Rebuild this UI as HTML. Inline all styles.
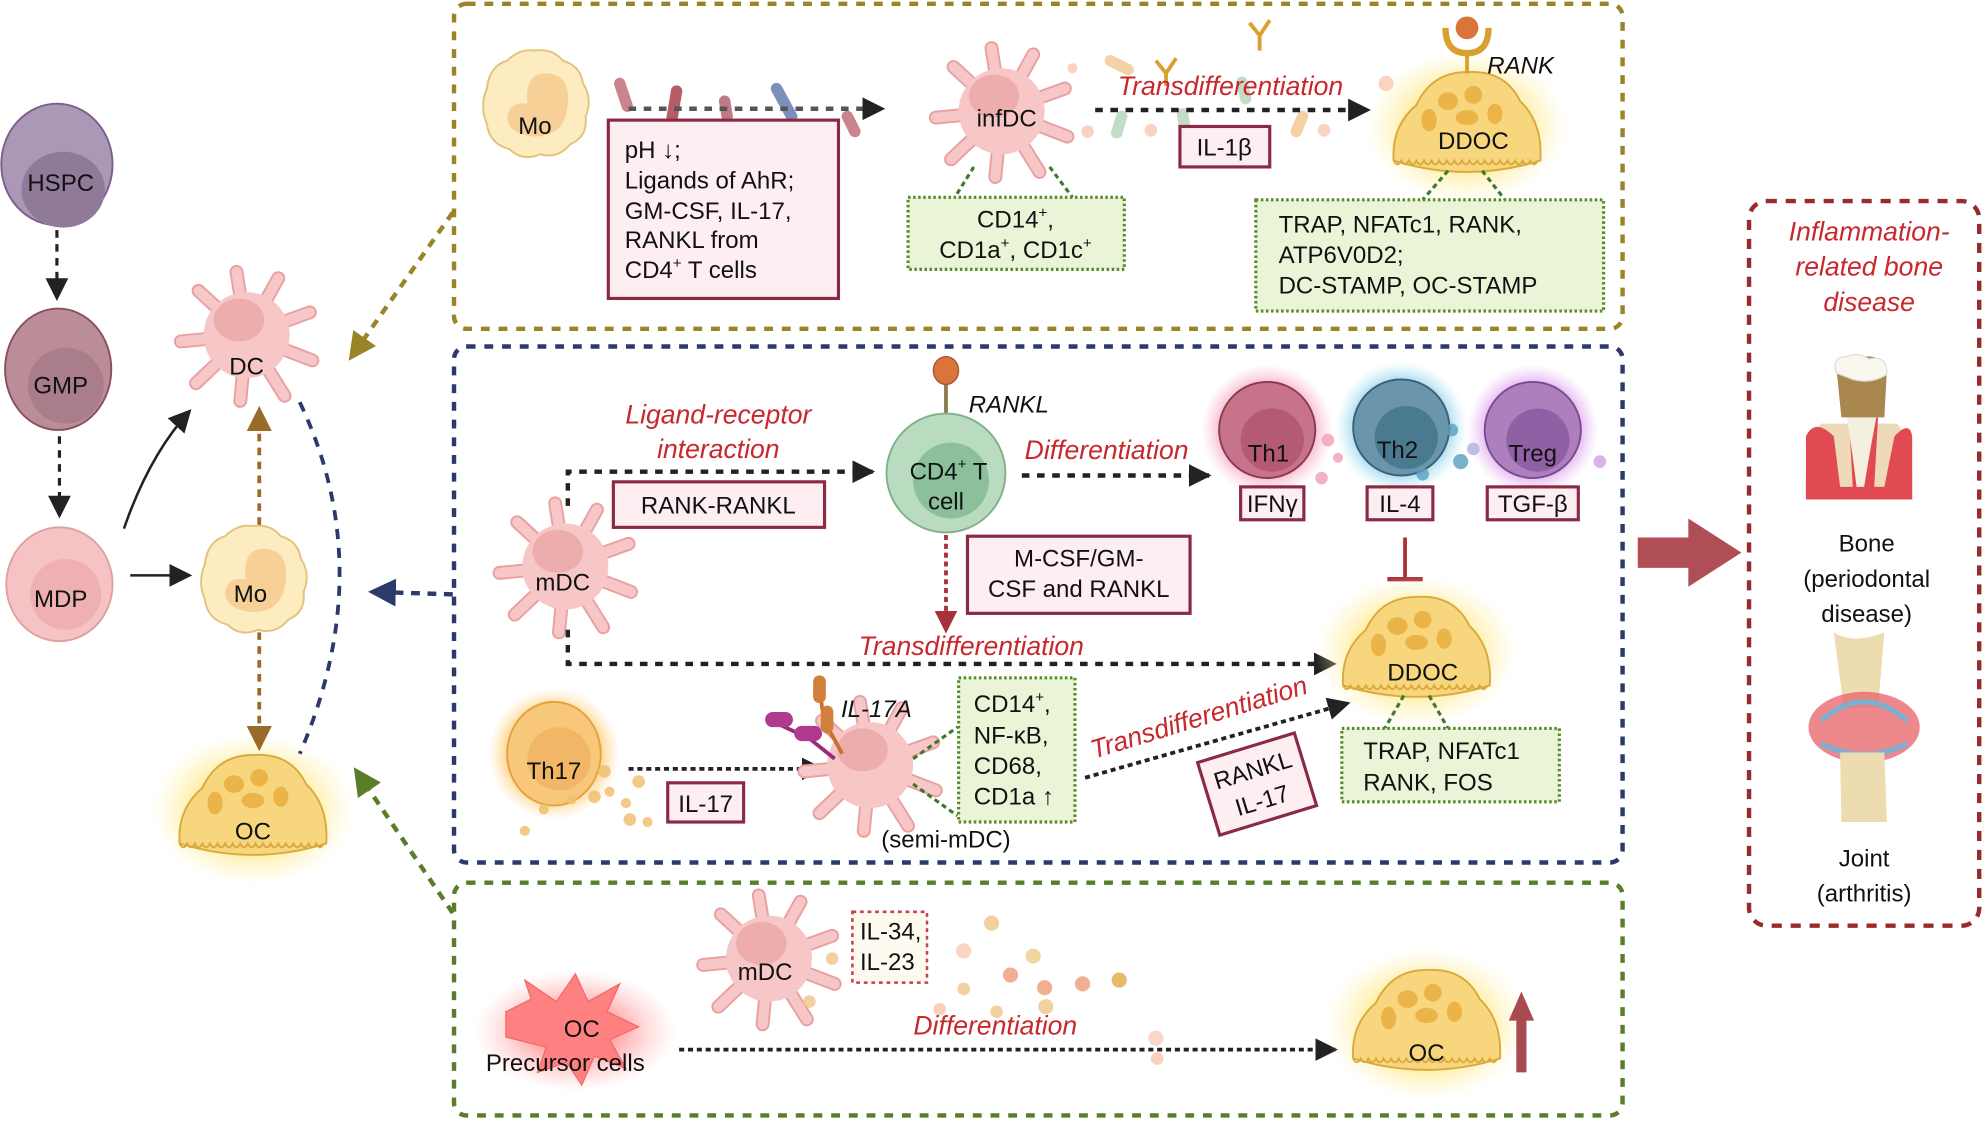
<!DOCTYPE html>
<html><head><meta charset="utf-8"><style>
html,body{margin:0;padding:0;background:#fff;}
svg{display:block;}
text{font-family:"Liberation Sans",sans-serif;}
.t{font-size:19px;fill:#111;}
.r{font-size:21px;fill:#c8282c;font-style:italic;}
.i{font-style:italic;}
</style></head><body>
<svg width="1983" height="1123" viewBox="0 0 1568 888" preserveAspectRatio="none" xmlns="http://www.w3.org/2000/svg">
<defs>
<marker id="ak" markerWidth="8" markerHeight="8" refX="6" refY="4" orient="auto" markerUnits="userSpaceOnUse" viewBox="0 0 8 8"><path d="M0,0L8,4L0,8Z" fill="#222"/></marker>
<marker id="akb" markerWidth="18" markerHeight="18" refX="16" refY="9" orient="auto" markerUnits="userSpaceOnUse"><path d="M0,0L18,9L0,18Z" fill="#222"/></marker>
<marker id="ao" markerWidth="22" markerHeight="22" refX="18" refY="11" orient="auto" markerUnits="userSpaceOnUse"><path d="M0,0L22,11L0,22Z" fill="#9a8428"/></marker>
<marker id="an" markerWidth="22" markerHeight="22" refX="18" refY="11" orient="auto" markerUnits="userSpaceOnUse"><path d="M0,0L22,11L0,22Z" fill="#2b3a6b"/></marker>
<marker id="ag" markerWidth="22" markerHeight="22" refX="18" refY="11" orient="auto" markerUnits="userSpaceOnUse"><path d="M0,0L22,11L0,22Z" fill="#5a7d2a"/></marker>
<marker id="abr" markerWidth="20" markerHeight="20" refX="16" refY="10" orient="auto" markerUnits="userSpaceOnUse"><path d="M0,0L20,10L0,20Z" fill="#9a6a2a"/></marker>
<marker id="ar" markerWidth="18" markerHeight="18" refX="15" refY="9" orient="auto" markerUnits="userSpaceOnUse"><path d="M0,0L18,9L0,18Z" fill="#a8303a"/></marker>
<radialGradient id="gy"><stop offset="0.5" stop-color="#ffe680" stop-opacity="0.9"/><stop offset="1" stop-color="#fff3b0" stop-opacity="0"/></radialGradient>
<radialGradient id="gp"><stop offset="0.6" stop-color="#f06a9a" stop-opacity="0.7"/><stop offset="1" stop-color="#f7a0c0" stop-opacity="0"/></radialGradient>
<radialGradient id="gb"><stop offset="0.6" stop-color="#3aaed8" stop-opacity="0.7"/><stop offset="1" stop-color="#90d8f0" stop-opacity="0"/></radialGradient>
<radialGradient id="gv"><stop offset="0.6" stop-color="#c060e0" stop-opacity="0.7"/><stop offset="1" stop-color="#e0a0f0" stop-opacity="0"/></radialGradient>
<radialGradient id="go"><stop offset="0.6" stop-color="#ffb030" stop-opacity="0.8"/><stop offset="1" stop-color="#ffd070" stop-opacity="0"/></radialGradient>
<radialGradient id="gr"><stop offset="0.3" stop-color="#ff7070" stop-opacity="0.8"/><stop offset="1" stop-color="#ffb0b0" stop-opacity="0"/></radialGradient>
<g id="dc">
 <g stroke="#e8a0a0" stroke-width="11" stroke-linecap="round">
  <line x1="0" y1="0" x2="-8" y2="-50"/><line x1="0" y1="0" x2="25" y2="-45"/><line x1="0" y1="0" x2="50" y2="-18"/><line x1="0" y1="0" x2="52" y2="20"/><line x1="0" y1="0" x2="30" y2="48"/><line x1="0" y1="0" x2="-5" y2="52"/><line x1="0" y1="0" x2="-40" y2="38"/><line x1="0" y1="0" x2="-52" y2="5"/><line x1="0" y1="0" x2="-38" y2="-35"/>
 </g>
 <g stroke="#f7c6c6" stroke-width="8" stroke-linecap="round">
  <line x1="0" y1="0" x2="-8" y2="-50"/><line x1="0" y1="0" x2="25" y2="-45"/><line x1="0" y1="0" x2="50" y2="-18"/><line x1="0" y1="0" x2="52" y2="20"/><line x1="0" y1="0" x2="30" y2="48"/><line x1="0" y1="0" x2="-5" y2="52"/><line x1="0" y1="0" x2="-40" y2="38"/><line x1="0" y1="0" x2="-52" y2="5"/><line x1="0" y1="0" x2="-38" y2="-35"/>
 </g>
 <circle r="34" fill="#f7c6c6"/>
 <ellipse cx="-6" cy="-12" rx="20" ry="17" fill="#eeadad"/>
</g>
<g id="oc">
 <ellipse cx="0" cy="-5" rx="80" ry="60" fill="url(#gy)"/>
 <path d="M-58,22 Q-60,-5 -40,-22 Q-28,-48 0,-48 Q30,-50 42,-25 Q60,-8 58,22 Q0,40 -58,22Z" fill="#f7d67e" stroke="#d9a93c" stroke-width="1.5"/>
 <path d="M-58,22 q3,6 6,0 q3,6 6,0 q3,6 6,0 q3,6 6,0 q3,6 6,0 q3,6 6,0 q3,6 6,0 q3,6 6,0 q3,6 6,0 q3,6 6,0 q3,6 6,0 q3,6 6,0 q3,6 6,0 q3,6 6,0 q3,6 6,0 q3,6 6,0 q3,6 6,0 q3,6 6,0 q3,6 6,0" fill="none" stroke="#d9a93c" stroke-width="1.5"/>
 <g fill="#ebb449"><ellipse cx="-30" cy="-10" rx="6" ry="9"/><ellipse cx="-15" cy="-25" rx="8" ry="7"/><ellipse cx="5" cy="-30" rx="7" ry="7"/><ellipse cx="0" cy="-12" rx="9" ry="6"/><ellipse cx="22" cy="-15" rx="6" ry="8"/></g>
</g>
<g id="mo">
 <path d="M0,-42 Q14,-44 22,-34 Q36,-30 38,-16 Q46,-4 40,10 Q42,26 28,32 Q18,44 4,40 Q-10,46 -20,36 Q-36,32 -38,16 Q-44,2 -38,-12 Q-36,-30 -22,-34 Q-12,-44 0,-42Z" fill="#fcecc0" stroke="#e3c27a" stroke-width="1.5"/>
 <path d="M8,-24 Q28,-24 26,0 Q24,26 0,26 Q-22,24 -22,10 Q-20,-2 -6,0 Q-8,-24 8,-24Z" fill="#f6d096"/>
</g>
</defs>

<!-- boxes -->
<rect x="359" y="3" width="924" height="257" rx="10" fill="none" stroke="#9a8428" stroke-width="3.5" stroke-dasharray="7,7"/>
<rect x="359" y="274" width="924" height="408" rx="10" fill="none" stroke="#2b3a6b" stroke-width="3.5" stroke-dasharray="7,7"/>
<rect x="359" y="698" width="924" height="184" rx="10" fill="none" stroke="#5a7d2a" stroke-width="3.5" stroke-dasharray="7,7"/>
<rect x="1383" y="159" width="182" height="573" rx="14" fill="none" stroke="#9b2a2a" stroke-width="3.5" stroke-dasharray="8,7"/>

<!-- left lineage -->
<ellipse cx="45" cy="130" rx="44" ry="48" fill="#ab97b6" stroke="#7d5d8c" stroke-width="1.5"/>
<ellipse cx="50" cy="150" rx="33" ry="30" fill="#8f7b99"/>
<text class="t" x="48" y="151" text-anchor="middle" font-size="21">HSPC</text>
<ellipse cx="46" cy="292" rx="42" ry="48" fill="#bb8d99" stroke="#8a4f5f" stroke-width="1.5"/>
<ellipse cx="52" cy="305" rx="30" ry="30" fill="#a97d8a"/>
<text class="t" x="48" y="311" text-anchor="middle" font-size="21">GMP</text>
<ellipse cx="47" cy="462" rx="42" ry="45" fill="#f5c3c3" stroke="#e0a0a0" stroke-width="1.5"/>
<ellipse cx="52" cy="470" rx="28" ry="28" fill="#eeb0b0"/>
<text class="t" x="48" y="480" text-anchor="middle" font-size="21">MDP</text>
<line x1="45" y1="182" x2="45" y2="236" stroke="#222" stroke-width="2.5" stroke-dasharray="6,5" marker-end="url(#akb)"/>
<line x1="47" y1="345" x2="47" y2="408" stroke="#222" stroke-width="2.5" stroke-dasharray="6,5" marker-end="url(#akb)"/>
<line x1="103" y1="455" x2="150" y2="455" stroke="#222" stroke-width="2" marker-end="url(#akb)"/>
<path d="M98,418 Q118,360 150,325" fill="none" stroke="#222" stroke-width="2" marker-end="url(#akb)"/>

<use href="#dc" x="195" y="265"/>
<text class="t" x="195" y="296" text-anchor="middle" font-size="21">DC</text>
<use href="#mo" x="200" y="458"/>
<text class="t" x="198" y="476" text-anchor="middle" font-size="21">Mo</text>
<use href="#oc" x="200" y="645"/>
<text class="t" x="200" y="664" text-anchor="middle" font-size="21">OC</text>
<line x1="205" y1="415" x2="205" y2="325" stroke="#9a6a2a" stroke-width="3" stroke-dasharray="6,5" marker-end="url(#abr)"/>
<line x1="205" y1="500" x2="205" y2="590" stroke="#9a6a2a" stroke-width="3" stroke-dasharray="6,5" marker-end="url(#abr)"/>
<path d="M237,318 Q300,450 237,596" fill="none" stroke="#2b3a6b" stroke-width="3" stroke-dasharray="8,7"/>
<line x1="358" y1="168" x2="278" y2="282" stroke="#9a8428" stroke-width="3.5" stroke-dasharray="7,6" marker-end="url(#ao)"/>
<line x1="358" y1="470" x2="295" y2="468" stroke="#2b3a6b" stroke-width="3.5" stroke-dasharray="7,6" marker-end="url(#an)"/>
<line x1="358" y1="722" x2="282" y2="610" stroke="#5a7d2a" stroke-width="3.5" stroke-dasharray="7,6" marker-end="url(#ag)"/>

<!-- TOP BOX -->
<use href="#mo" x="423" y="82"/>
<text class="t" x="423" y="106" text-anchor="middle">Mo</text>
<g stroke-linecap="round" stroke-width="9">
<line x1="490" y1="66" x2="496" y2="84" stroke="#c9848c"/><line x1="535" y1="72" x2="531" y2="96" stroke="#b65c68"/><line x1="573" y1="80" x2="575" y2="92" stroke="#c07a85"/><line x1="614" y1="70" x2="626" y2="92" stroke="#7a8fbb"/><line x1="670" y1="92" x2="676" y2="104" stroke="#c9848c"/>
</g>
<line x1="497" y1="86" x2="698" y2="86" stroke="#555" stroke-width="3.5" stroke-dasharray="6,6" marker-end="url(#akb)"/>
<rect x="481" y="95" width="182" height="141" fill="#fdeef1" stroke="#8b2a45" stroke-width="2.5"/>
<text class="t" x="494" y="125">pH ↓;</text>
<text class="t" x="494" y="149">Ligands of AhR;</text>
<text class="t" x="494" y="173">GM-CSF, IL-17,</text>
<text class="t" x="494" y="196">RANKL from</text>
<text class="t" x="494" y="220">CD4<tspan font-size="12" dy="-8">+</tspan><tspan dy="8"> T cells</tspan></text>

<use href="#dc" x="792" y="88"/>
<text class="t" x="796" y="100" text-anchor="middle">infDC</text>
<line x1="770" y1="132" x2="755" y2="156" stroke="#3d7a2a" stroke-width="2.5" stroke-dasharray="4,3"/>
<line x1="830" y1="132" x2="848" y2="156" stroke="#3d7a2a" stroke-width="2.5" stroke-dasharray="4,3"/>
<rect x="718" y="156" width="171" height="57" fill="#eaf5d8" stroke="#5a8a2a" stroke-width="2.5" stroke-dasharray="2,2"/>
<text class="t" x="803" y="180" text-anchor="middle">CD14<tspan font-size="12" dy="-8">+</tspan><tspan dy="8">,</tspan></text>
<text class="t" x="803" y="204" text-anchor="middle">CD1a<tspan font-size="12" dy="-8">+</tspan><tspan dy="8">, CD1c</tspan><tspan font-size="12" dy="-8">+</tspan></text>

<g stroke-linecap="round" stroke-width="9" opacity="0.7">
<line x1="878" y1="48" x2="892" y2="55" stroke="#f0c080"/><line x1="887" y1="92" x2="883" y2="105" stroke="#a8d0b0"/><line x1="935" y1="90" x2="937" y2="102" stroke="#a8d0b0"/><line x1="982" y1="65" x2="985" y2="78" stroke="#a8d0b0"/><line x1="1030" y1="92" x2="1025" y2="104" stroke="#f0c080"/>
</g>
<g fill="#f9c8b0" opacity="0.8"><circle cx="860" cy="104" r="5"/><circle cx="910" cy="103" r="5"/><circle cx="1047" cy="103" r="5"/><circle cx="1096" cy="66" r="6"/><circle cx="848" cy="54" r="4"/></g>
<g stroke="#d9a030" stroke-width="3" fill="none"><path d="M922,58 l-8,-10 M922,58 l8,-12 M922,58 v10"/><path d="M996,28 l-8,-10 M996,28 l8,-12 M996,28 v12"/></g>
<line x1="866" y1="87" x2="1082" y2="87" stroke="#222" stroke-width="3.5" stroke-dasharray="6,6" marker-end="url(#akb)"/>
<text class="r" x="973" y="75" text-anchor="middle">Transdifferentiation</text>
<rect x="933" y="100" width="71" height="32" fill="#fdeef1" stroke="#8b2a45" stroke-width="2.5"/>
<text class="t" x="968" y="123" text-anchor="middle">IL-1β</text>

<use href="#oc" x="1160" y="105"/>
<path d="M1143,22 Q1143,42 1160,42 Q1177,42 1177,22" fill="none" stroke="#d9a030" stroke-width="5"/>
<line x1="1160" y1="42" x2="1160" y2="58" stroke="#d9a030" stroke-width="3"/>
<circle cx="1160" cy="22" r="9" fill="#d9743a"/>
<text class="t i" x="1176" y="58">RANK</text>
<text class="t" x="1165" y="118" text-anchor="middle">DDOC</text>
<line x1="1145" y1="135" x2="1125" y2="158" stroke="#3d7a2a" stroke-width="2.5" stroke-dasharray="4,3"/>
<line x1="1172" y1="135" x2="1190" y2="158" stroke="#3d7a2a" stroke-width="2.5" stroke-dasharray="4,3"/>
<rect x="993" y="158" width="275" height="88" fill="#eaf5d8" stroke="#5a8a2a" stroke-width="2.5" stroke-dasharray="2,2"/>
<text class="t" x="1011" y="184">TRAP, NFATc1, RANK,</text>
<text class="t" x="1011" y="208">ATP6V0D2;</text>
<text class="t" x="1011" y="232">DC-STAMP, OC-STAMP</text>

<!-- MIDDLE BOX -->
<use href="#dc" x="447" y="448"/>
<text class="t" x="445" y="467" text-anchor="middle">mDC</text>
<text class="r" x="568" y="335" text-anchor="middle">Ligand-receptor</text>
<text class="r" x="568" y="362" text-anchor="middle">interaction</text>
<path d="M449,400 V373 H690" fill="none" stroke="#222" stroke-width="3.5" stroke-dasharray="6,6" marker-end="url(#akb)"/>
<rect x="485" y="381" width="167" height="36" fill="#fdeef1" stroke="#8b2a45" stroke-width="2.5"/>
<text class="t" x="568" y="406" text-anchor="middle">RANK-RANKL</text>
<line x1="748" y1="300" x2="748" y2="327" stroke="#8a7a50" stroke-width="3"/>
<ellipse cx="748" cy="293" rx="10" ry="11" fill="#d9743a" stroke="#a8502a"/>
<text class="t i" x="766" y="326">RANKL</text>
<circle cx="748" cy="374" r="47" fill="#b9dcc0" stroke="#7fb08a" stroke-width="1.5"/>
<circle cx="752" cy="380" r="30" fill="#8cc09a"/>
<text class="t" x="750" y="379" text-anchor="middle">CD4<tspan font-size="12" dy="-8">+</tspan><tspan dy="8"> T</tspan></text>
<text class="t" x="748" y="403" text-anchor="middle">cell</text>
<text class="r" x="875" y="363" text-anchor="middle">Differentiation</text>
<line x1="808" y1="376" x2="956" y2="376" stroke="#222" stroke-width="3.5" stroke-dasharray="6,6" marker-end="url(#akb)"/>

<circle cx="1002" cy="340" r="52" fill="url(#gp)"/>
<circle cx="1002" cy="340" r="38" fill="#c7738a" stroke="#8a3a50" stroke-width="1.5"/>
<circle cx="1006" cy="348" r="25" fill="#b45a74"/>
<text class="t" x="1003" y="365" text-anchor="middle" font-size="21">Th1</text>
<circle cx="1108" cy="338" r="52" fill="url(#gb)"/>
<circle cx="1108" cy="338" r="38" fill="#6a95aa" stroke="#3a6078" stroke-width="1.5"/>
<circle cx="1112" cy="346" r="25" fill="#4a7a90"/>
<text class="t" x="1105" y="362" text-anchor="middle" font-size="21">Th2</text>
<circle cx="1212" cy="340" r="52" fill="url(#gv)"/>
<circle cx="1212" cy="340" r="38" fill="#ad80bd" stroke="#7a4a90" stroke-width="1.5"/>
<circle cx="1216" cy="348" r="25" fill="#9060a5"/>
<text class="t" x="1212" y="365" text-anchor="middle" font-size="21">Treg</text>
<g opacity="0.8"><circle cx="1050" cy="348" r="5" fill="#f0a0b8"/><circle cx="1045" cy="378" r="5" fill="#f0a0b8"/><circle cx="1058" cy="362" r="4" fill="#f0a0b8"/><circle cx="1155" cy="365" r="6" fill="#5aa0c0"/><circle cx="1148" cy="340" r="5" fill="#5aa0c0"/><circle cx="1125" cy="375" r="5" fill="#5aa0c0"/><circle cx="1265" cy="365" r="5" fill="#d0a0e0"/><circle cx="1165" cy="355" r="5" fill="#b0b0e0"/></g>
<rect x="981" y="385" width="50" height="26" fill="#fdeef1" stroke="#8b2a45" stroke-width="2.5"/>
<text class="t" x="1006" y="405" text-anchor="middle">IFNγ</text>
<rect x="1081" y="385" width="52" height="26" fill="#fdeef1" stroke="#8b2a45" stroke-width="2.5"/>
<text class="t" x="1107" y="405" text-anchor="middle">IL-4</text>
<rect x="1176" y="385" width="72" height="26" fill="#fdeef1" stroke="#8b2a45" stroke-width="2.5"/>
<text class="t" x="1212" y="405" text-anchor="middle">TGF-β</text>
<line x1="1111" y1="425" x2="1111" y2="458" stroke="#a8303a" stroke-width="3"/>
<line x1="1097" y1="458" x2="1125" y2="458" stroke="#a8303a" stroke-width="3.5"/>

<line x1="748" y1="423" x2="748" y2="498" stroke="#a8303a" stroke-width="3" stroke-dasharray="4,3" marker-end="url(#ar)"/>
<rect x="765" y="424" width="176" height="61" fill="#fdeef1" stroke="#8b2a45" stroke-width="2.5"/>
<text class="t" x="853" y="448" text-anchor="middle">M-CSF/GM-</text>
<text class="t" x="853" y="472" text-anchor="middle">CSF and RANKL</text>
<text class="r" x="768" y="518" text-anchor="middle">Transdifferentiation</text>
<path d="M449,498 V525 H1055" fill="none" stroke="#222" stroke-width="3.5" stroke-dasharray="6,6" marker-end="url(#akb)"/>
<use href="#oc" x="1120" y="520"/>
<text class="t" x="1125" y="538" text-anchor="middle">DDOC</text>
<line x1="1110" y1="550" x2="1095" y2="576" stroke="#3d7a2a" stroke-width="2.5" stroke-dasharray="4,3"/>
<line x1="1130" y1="550" x2="1145" y2="576" stroke="#3d7a2a" stroke-width="2.5" stroke-dasharray="4,3"/>
<rect x="1061" y="576" width="172" height="58" fill="#eaf5d8" stroke="#5a8a2a" stroke-width="2.5" stroke-dasharray="2,2"/>
<text class="t" x="1078" y="600">TRAP, NFATc1</text>
<text class="t" x="1078" y="625">RANK, FOS</text>

<circle cx="438" cy="596" r="52" fill="url(#go)"/>
<ellipse cx="438" cy="596" rx="37" ry="41" fill="#f7c77a" stroke="#e6a040" stroke-width="1.5"/>
<circle cx="442" cy="600" r="25" fill="#f2b766"/>
<text class="t" x="438" y="616" text-anchor="middle">Th17</text>
<g fill="#f0c070" opacity="0.85"><circle cx="415" cy="657" r="4"/><circle cx="430" cy="640" r="4"/><circle cx="452" cy="632" r="4"/><circle cx="470" cy="630" r="5"/><circle cx="478" cy="610" r="5"/><circle cx="482" cy="626" r="4"/><circle cx="498" cy="648" r="5"/><circle cx="505" cy="618" r="5"/><circle cx="495" cy="635" r="4"/><circle cx="512" cy="650" r="4"/></g>
<line x1="497" y1="608" x2="650" y2="608" stroke="#222" stroke-width="3" stroke-dasharray="4,3" marker-end="url(#akb)"/>
<rect x="528" y="619" width="60" height="31" fill="#fdeef1" stroke="#8b2a45" stroke-width="2.5"/>
<text class="t" x="558" y="642" text-anchor="middle">IL-17</text>
<use href="#dc" x="688" y="605"/>
<path d="M648,540 L650,560 L656,578 L666,596" fill="none" stroke="#c87030" stroke-width="3"/>
<rect x="643" y="534" width="10" height="22" rx="5" fill="#d0803a"/><rect x="649" y="558" width="10" height="22" rx="5" fill="#d0803a"/>
<path d="M610,570 L640,584 L660,600" fill="none" stroke="#9a2a7a" stroke-width="3"/>
<rect x="605" y="563" width="22" height="12" rx="6" fill="#b03a90"/><rect x="628" y="574" width="22" height="12" rx="6" fill="#b03a90"/>
<text class="t i" x="665" y="567">IL-17A</text>
<text class="t" x="748" y="670" text-anchor="middle">(semi-mDC)</text>
<line x1="722" y1="600" x2="757" y2="575" stroke="#3d7a2a" stroke-width="2.5" stroke-dasharray="4,3"/>
<line x1="722" y1="620" x2="757" y2="645" stroke="#3d7a2a" stroke-width="2.5" stroke-dasharray="4,3"/>
<rect x="758" y="536" width="92" height="114" fill="#eaf5d8" stroke="#5a8a2a" stroke-width="2.5" stroke-dasharray="2,2"/>
<text class="t" x="770" y="563">CD14<tspan font-size="12" dy="-8">+</tspan><tspan dy="8">,</tspan></text>
<text class="t" x="770" y="588">NF-κB,</text>
<text class="t" x="770" y="612">CD68,</text>
<text class="t" x="770" y="636">CD1a ↑</text>
<line x1="858" y1="615" x2="1066" y2="556" stroke="#222" stroke-width="3" stroke-dasharray="4,3" marker-end="url(#akb)"/>
<text class="r" x="950" y="574" text-anchor="middle" transform="rotate(-17 950 574)">Transdifferentiation</text>
<g transform="rotate(-17 994 620)">
<rect x="954" y="590" width="80" height="60" fill="#fdeef1" stroke="#8b2a45" stroke-width="2.5"/>
<text class="t" x="994" y="615" text-anchor="middle">RANKL</text>
<text class="t" x="994" y="640" text-anchor="middle">IL-17</text>
</g>

<!-- BOTTOM BOX -->
<use href="#dc" x="608" y="758"/>
<text class="t" x="605" y="775" text-anchor="middle">mDC</text>
<rect x="674" y="721" width="59" height="56" fill="#fffaf0" stroke="#c8404a" stroke-width="2" stroke-dasharray="3,3"/>
<text class="t" x="680" y="743">IL-34,</text>
<text class="t" x="680" y="767">IL-23</text>
<g opacity="0.85"><circle cx="784" cy="730" r="6" fill="#f0c890"/><circle cx="762" cy="752" r="6" fill="#f9d0b8"/><circle cx="817" cy="756" r="6" fill="#f0d090"/><circle cx="799" cy="771" r="6" fill="#f0a080"/><circle cx="826" cy="781" r="6" fill="#f0a080"/><circle cx="856" cy="778" r="6" fill="#f0a080"/><circle cx="885" cy="775" r="6" fill="#e0b050"/><circle cx="762" cy="782" r="5" fill="#f0c890"/><circle cx="743" cy="798" r="5" fill="#f9c8b0"/><circle cx="788" cy="800" r="5" fill="#f0c890"/><circle cx="827" cy="796" r="6" fill="#f0c890"/><circle cx="914" cy="821" r="6" fill="#f9d0c0"/><circle cx="915" cy="837" r="5" fill="#f9c8b0"/><circle cx="640" cy="792" r="5" fill="#f0c890"/><circle cx="658" cy="758" r="5" fill="#f0c890"/></g>
<ellipse cx="455" cy="815" rx="80" ry="48" fill="url(#gr)"/>
<path d="M400,800 L420,790 L415,775 L440,792 L455,770 L465,792 L490,778 L480,800 L505,812 L482,822 L495,845 L470,835 L460,858 L448,840 L425,848 L432,828 L400,820Z" fill="#ff8080" stroke="#f06a6a"/>
<text class="t" x="460" y="820" text-anchor="middle" font-size="21">OC</text>
<text class="t" x="447" y="847" text-anchor="middle">Precursor cells</text>
<text class="r" x="787" y="818" text-anchor="middle">Differentiation</text>
<line x1="537" y1="830" x2="1056" y2="830" stroke="#222" stroke-width="3" stroke-dasharray="4,3" marker-end="url(#akb)"/>
<use href="#oc" x="1128" y="815"/>
<text class="t" x="1128" y="839" text-anchor="middle">OC</text>
<line x1="1203" y1="848" x2="1203" y2="805" stroke="#a84a50" stroke-width="8"/>
<path d="M1193,807 L1203,784 L1213,807Z" fill="#a84a50"/>

<!-- big arrow -->
<path d="M1295,425 H1335 V410 L1377,437 L1335,464 V449 H1295Z" fill="#b04e55"/>

<!-- RIGHT BOX -->
<text class="r" x="1478" y="190" text-anchor="middle">Inflammation-</text>
<text class="r" x="1478" y="218" text-anchor="middle">related bone</text>
<text class="r" x="1478" y="246" text-anchor="middle">disease</text>
<path d="M1428,395 Q1426,350 1440,335 L1500,335 Q1514,350 1512,395Z" fill="#eed9b8"/>
<path d="M1428,395 L1428,345 Q1435,330 1450,345 L1455,385 L1465,385 L1462,330 L1485,330 L1482,385 L1490,385 L1498,345 Q1510,332 1512,345 L1512,395Z" fill="#e04a50"/>
<path d="M1455,300 Q1462,335 1468,385 L1474,385 Q1482,335 1490,300Z" fill="#f5efe0"/>
<path d="M1452,290 Q1452,280 1470,282 Q1490,280 1492,292 L1490,330 L1456,330Z" fill="#a9874f"/>
<path d="M1452,295 Q1448,282 1460,282 Q1470,278 1478,284 Q1492,280 1492,296 Q1480,304 1465,300Z" fill="#faf7ef" stroke="#ddd"/>
<text class="t" x="1476" y="436" text-anchor="middle" font-size="21">Bone</text>
<text class="t" x="1476" y="464" text-anchor="middle" font-size="21">(periodontal</text>
<text class="t" x="1476" y="492" text-anchor="middle" font-size="21">disease)</text>
<path d="M1450,500 Q1465,510 1490,500 L1485,560 L1458,560Z" fill="#ecdcb0"/>
<ellipse cx="1474" cy="575" rx="44" ry="28" fill="#e86a70" opacity="0.8"/>
<path d="M1440,570 Q1474,540 1508,570" fill="none" stroke="#7ab0d0" stroke-width="4"/>
<path d="M1440,588 Q1474,605 1508,588" fill="none" stroke="#7ab0d0" stroke-width="4"/>
<path d="M1455,595 L1490,595 L1492,650 L1456,650Z" fill="#ecdcb0"/>
<text class="t" x="1474" y="685" text-anchor="middle" font-size="21">Joint</text>
<text class="t" x="1474" y="713" text-anchor="middle" font-size="21">(arthritis)</text>
</svg>
</body></html>
